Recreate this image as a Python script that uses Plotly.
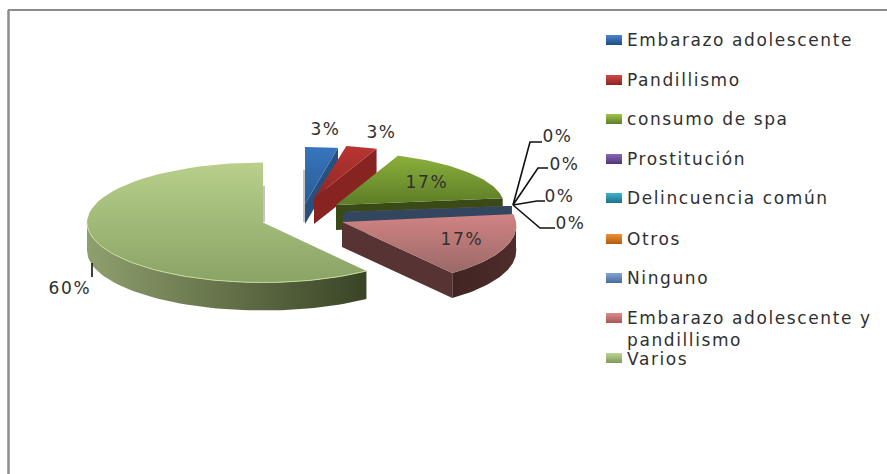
import numpy as np
import plotly.graph_objects as go

# ---- data ----
categories = ["Embarazo adolescente", "Pandillismo", "consumo de spa", "Prostitución",
              "Delincuencia común", "Otros", "Ninguno",
              "Embarazo adolescente y<br>pandillismo", "Varios"]
values = [3, 3, 17, 0, 0, 0, 0, 17, 60]

# ---- 3-D projection of each exploded slice (pixel space) ----
centers = [(305, 204), (314, 198), (336, 205), (343, 212), (343, 212), (343, 212), (343, 212), (342, 222), (263, 222.5)]
radii = [(176, 57), (170, 53), (168, 53), (170, 48), (170, 48), (170, 48), (170, 48), (174, 63), (176, 60)]
shears = [0, 0, 0, 0, 0, 0, 0, 0.157, 0]
depths = [20, 26, 25, 22, 22, 22, 22, 25, 28]
top_cols = [("#3675bd", "#2a5c96"), ("#ba3532", "#8e2724"), ("#8bb03c", "#5c7c26"), ("#6a4a92", "#6a4a92"),
            ("#2a95ae", "#2a95ae"), ("#d97a20", "#d97a20"), ("#33465f", "#33465f"),
            ("#d28383", "#9a6968"), ("#b8d08a", "#8aa366")]
face_cols = ["#274f80", "#872320", "#3a4a17", "#4a3568", "#1f6c80", "#a05a18", "#33465f", "#573433", "#394426"]
rim_cols = [("#2a5a92", "#2a5a92"), ("#872320", "#872320"), ("#3a4a17", "#3a4a17"), ("#000", "#000"),
            ("#000", "#000"), ("#000", "#000"), ("#000", "#000"), ("#402423", "#4f2d2c"), ("#8f9f6d", "#394426")]
swatch_cols = [("#4a86d0", "#1f4a80"), ("#d04a48", "#8a2522"), ("#a0c448", "#5f7f28"), ("#8a68b8", "#503578"),
               ("#3cb4d0", "#1f7088"), ("#f09030", "#b05c10"), ("#84a4d4", "#4a6a9a"),
               ("#dc8c8c", "#a85858"), ("#bcd494", "#7f9a58")]

# label positions
pct_pos = {0: (325, 129), 1: (381, 132), 2: (427, 182), 3: (557, 136), 4: (564, 164),
           5: (559, 196), 6: (570, 223), 7: (462, 239), 8: (70, 288)}
leaders = {3: [(513, 205), (530, 142), (542, 142)], 4: [(513, 205), (538, 168), (548, 168)],
           5: [(513, 205), (537, 201), (545, 201)], 6: [(513, 205), (540, 228), (555, 228)],
           8: [(92, 263), (92, 277)]}
legend_y = [40, 80, 119, 159, 198, 239, 278, 318, 358]
legend_text_y = [40, 80, 119, 159, 198, 239, 278, 328.5, 358.5]
shadows = [(264, 186, 222), (304, 170, 222)]

FONT = "DejaVu Sans"
fig = go.Figure()


def rim(i, a0, a1, n=60):
    t = np.radians(np.linspace(a0, a1, n))
    cx, cy = centers[i]
    rx, ry = radii[i]
    dy = -ry * np.cos(t)
    return cx + rx * np.sin(t) + shears[i] * dy, cy + dy


def poly(x, y, name, grad=None, orient="vertical", color=None):
    kw = dict(x=list(x) + [x[0]], y=list(y) + [y[0]], mode="lines", fill="toself",
              line=dict(width=0), name=name, showlegend=False, hoverinfo="name")
    if grad:
        kw["fillgradient"] = dict(type=orient, colorscale=[[0, grad[0]], [1, grad[1]]])
    else:
        kw["fillcolor"] = color
    fig.add_trace(go.Scatter(**kw))


# soft shadows behind the slices
for sx, y0, y1 in shadows:
    fig.add_trace(go.Scatter(x=[sx, sx], y=[y0, y1], mode="lines", line=dict(color="#c4c4c4", width=2),
                             showlegend=False, hoverinfo="skip"))

cum = np.concatenate([[0], np.cumsum(values)]) / sum(values) * 360
order = [8, 0, 1, 2, 3, 4, 5, 6, 7]
for i in order:
    a0, a1 = cum[i], cum[i + 1]
    cx, cy = centers[i]
    d = depths[i]
    name = categories[i].replace("<br>", " ")
    # end radial face (faces viewer for every slice but the large one)
    if i != 8:
        ex, ey = rim(i, a1, a1, 1)
        poly([cx, ex[0], ex[0], cx], [cy, ey[0], ey[0] + d, cy + d], name, color=face_cols[i])
    # outer wall, front half only
    f0, f1 = max(a0, 90), min(a1, 270)
    if f1 > f0:
        rx_, ry_ = rim(i, f0, f1)
        poly(list(rx_) + list(rx_[::-1]), list(ry_) + list((ry_ + d)[::-1]), name,
             grad=rim_cols[i], orient="horizontal")
    # top
    if a1 > a0:
        tx, ty = rim(i, a0, a1)
        poly([cx] + list(tx), [cy] + list(ty), name, grad=(top_cols[i][1], top_cols[i][0]))

# light rim edge on the large slice
lx, ly = rim(8, 144, 270)
fig.add_trace(go.Scatter(x=lx, y=ly, mode="lines", line=dict(color="#c6dc9e", width=1),
                         showlegend=False, hoverinfo="skip"))

# leaders
for pts in leaders.values():
    fig.add_trace(go.Scatter(x=[p[0] for p in pts], y=[p[1] for p in pts], mode="lines",
                             line=dict(color="#111111", width=1.6), showlegend=False, hoverinfo="skip"))

# legend swatches
for i, yy in enumerate(legend_y):
    poly([606, 622, 622, 606], [yy - 5, yy - 5, yy + 5, yy + 5], categories[i].replace("<br>", " "),
         grad=(swatch_cols[i][1], swatch_cols[i][0]))

ann = []
for i, v in enumerate(values):
    x, y = pct_pos[i]
    ann.append(dict(x=x, y=y, text=f"{v}%", showarrow=False, xanchor="center", yanchor="middle",
                    font=dict(family=FONT, size=17, color="#303030")))
for c, yy in zip(categories, legend_text_y):
    ann.append(dict(x=625, y=yy, text=c, showarrow=False, xanchor="left", yanchor="middle", align="left",
                    font=dict(family=FONT, size=17, color="#303030")))

frame = [dict(type="line", xref="x", yref="y", x0=8.5, x1=8.5, y0=10, y1=474, line=dict(color="#8c8c8c", width=2.5)),
         dict(type="line", xref="x", yref="y", x0=8, x1=887, y0=10, y1=10, line=dict(color="#8c8c8c", width=2))]

fig.update_layout(width=887, height=474, margin=dict(l=0, r=0, t=0, b=0), autosize=False,
                  paper_bgcolor="white", plot_bgcolor="white", showlegend=False,
                  xaxis=dict(range=[0, 887], visible=False, fixedrange=True),
                  yaxis=dict(range=[474, 0], visible=False, fixedrange=True),
                  annotations=ann, shapes=frame)
fig.write_html("out.html",
               post_script="document.body.style.margin='0';document.body.style.overflow='hidden';"
                           "document.querySelectorAll('.annotation-text').forEach(function(t){t.style.letterSpacing='1.6px';});",
               config={"displayModeBar": False})
